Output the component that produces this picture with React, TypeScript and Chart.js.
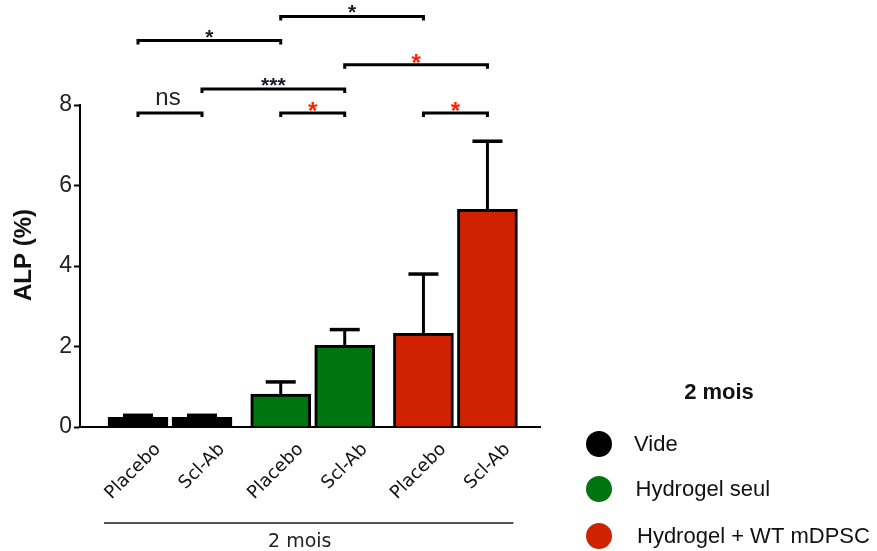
import React, { useEffect, useRef } from 'react';
import { Chart, registerables } from 'chart.js';

Chart.register(...registerables);

// ---- data ----
const groups = ['Vide', 'Hydrogel seul', 'Hydrogel + WT mDPSC'];
const groupColors = ['#000000', '#00740f', '#d02200'];
const barLabels = ['Placebo', 'Scl-Ab', 'Placebo', 'Scl-Ab', 'Placebo', 'Scl-Ab'];
const barGroup = [0, 0, 1, 1, 2, 2];
const alpMeans = [0.24, 0.24, 0.82, 2.03, 2.33, 5.41];
const alpErrors = [0.05, 0.05, 0.3, 0.39, 1.47, 1.69];
const yTickValues = [0, 2, 4, 6, 8];
const bracketFrom = [0, 2, 4, 1, 3, 0, 2];
const bracketTo = [1, 3, 5, 3, 5, 2, 4];
const bracketLevel = [7.8, 7.8, 7.8, 8.4, 9.0, 9.6, 10.2];
const bracketText = ['ns', '*', '*', '***', '*', '*', '*'];
const bracketRed = [false, true, true, false, true, false, false];
const xGroupLabel = '2 mois';
const legendTitle = '2 mois';
const yTitle = 'ALP (%)';

const SANS = '"Liberation Sans", Arial, Helvetica, sans-serif';
const VERD = '"DejaVu Sans", Verdana, sans-serif';

export default function App() {
  const ref = useRef<HTMLCanvasElement | null>(null);

  useEffect(() => {
    const canvas = ref.current;
    if (!canvas) return;
    const positions = barGroup.map((g, i) => g * 2.23 + (i % 2));
    const unit = 64;
    const xMin = -(58 / unit);
    const xMax = xMin + 460 / unit;

    const overlay = {
      id: 'overlay',
      afterDatasetsDraw(chart: any) {
        const ctx = chart.ctx;
        const meta = chart.getDatasetMeta(0);
        const ys = chart.scales.y;
        ctx.save();
        ctx.strokeStyle = '#000';
        ctx.lineCap = 'butt';
        meta.data.forEach((el: any, i: number) => {
          const top = ys.getPixelForValue(alpMeans[i] + alpErrors[i]);
          ctx.lineWidth = 3;
          ctx.beginPath();
          ctx.moveTo(el.x, el.y);
          ctx.lineTo(el.x, top);
          ctx.stroke();
          ctx.lineWidth = 3.5;
          ctx.beginPath();
          ctx.moveTo(el.x - 15, top);
          ctx.lineTo(el.x + 15, top);
          ctx.stroke();
        });
        ctx.restore();
      },
      afterDraw(chart: any) {
        const ctx = chart.ctx;
        const xs = chart.scales.x;
        const ys = chart.scales.y;
        const area = chart.chartArea;
        ctx.save();
        // y axis title
        ctx.save();
        ctx.translate(24, (area.top + area.bottom) / 2 - 11);
        ctx.rotate(-Math.PI / 2);
        ctx.fillStyle = '#111';
        ctx.font = `bold 24px ${SANS}`;
        ctx.textAlign = 'center';
        ctx.textBaseline = 'middle';
        ctx.fillText(yTitle, 0, 0);
        ctx.restore();
        // significance brackets
        bracketFrom.forEach((f, k) => {
          const x1 = xs.getPixelForValue(positions[f]);
          const x2 = xs.getPixelForValue(positions[bracketTo[k]]);
          const y = ys.getPixelForValue(bracketLevel[k]);
          ctx.strokeStyle = '#000';
          ctx.lineWidth = 3;
          ctx.beginPath();
          ctx.moveTo(x1, y + 4);
          ctx.lineTo(x1, y);
          ctx.lineTo(x2, y);
          ctx.lineTo(x2, y + 4);
          ctx.stroke();
          const t = bracketText[k];
          ctx.textAlign = 'center';
          ctx.textBaseline = 'alphabetic';
          if (t === 'ns') {
            ctx.fillStyle = '#222';
            ctx.font = `24px ${SANS}`;
            ctx.fillText(t, (x1 + x2) / 2 - 2, y - 8);
          } else if (bracketRed[k]) {
            ctx.fillStyle = '#ff2200';
            ctx.font = `bold 24px ${SANS}`;
            ctx.fillText(t, (x1 + x2) / 2, y + 6);
          } else {
            ctx.fillStyle = '#1a1a2a';
            ctx.font = `bold 21px ${SANS}`;
            ctx.fillText(t, (x1 + x2) / 2, y + 3);
          }
        });
        // group line under x labels
        const lx1 = xs.getPixelForValue(positions[0]) - 34;
        const lx2 = xs.getPixelForValue(positions[positions.length - 1]) + 26;
        ctx.strokeStyle = '#555';
        ctx.lineWidth = 2;
        ctx.beginPath();
        ctx.moveTo(lx1, 523);
        ctx.lineTo(lx2, 523);
        ctx.stroke();
        ctx.fillStyle = '#222';
        ctx.font = `19px ${VERD}`;
        ctx.textAlign = 'center';
        ctx.textBaseline = 'middle';
        ctx.fillText(xGroupLabel, (lx1 + lx2) / 2 - 9, 542);
        // legend
        ctx.fillStyle = '#111';
        ctx.font = `bold 22px ${SANS}`;
        ctx.fillText(legendTitle, 719, 393);
        const ly = [444, 489, 536];
        groups.forEach((g, i) => {
          ctx.fillStyle = groupColors[i];
          ctx.beginPath();
          ctx.arc(599, ly[i], 13, 0, Math.PI * 2);
          ctx.fill();
          ctx.fillStyle = '#111';
          ctx.font = `22px ${SANS}`;
          ctx.textAlign = 'left';
          ctx.textBaseline = 'middle';
          ctx.fillText(g, 634 + i * 1.5, ly[i] + 1);
        });
        ctx.restore();
      },
    };

    const chart = new Chart(canvas, {
      type: 'bar',
      data: {
        datasets: [
          {
            data: alpMeans.map((v, i) => ({ x: positions[i], y: v })),
            backgroundColor: barGroup.map((g) => groupColors[g]),
            borderColor: '#000',
            borderWidth: 3,
            barThickness: 60,
          },
        ],
      },
      options: {
        responsive: false,
        animation: false,
        devicePixelRatio: 1,
        layout: { padding: { top: 105, right: 337, bottom: 0, left: 0 } },
        plugins: { legend: { display: false }, tooltip: { enabled: false } },
        scales: {
          x: {
            type: 'linear',
            offset: false,
            min: xMin,
            max: xMax,
            afterFit(scale: any) {
              scale.height = 124;
            },
            afterBuildTicks(scale: any) {
              scale.ticks = positions.map((p) => ({ value: p }));
            },
            grid: { display: false, drawTicks: false, offset: false },
            border: { display: true, color: '#000', width: 2 },
            ticks: {
              autoSkip: false,
              minRotation: 45,
              maxRotation: 45,
              labelOffset: 20,
              padding: 12,
              color: '#111',
              font: { family: VERD, size: 18 },
              callback: (_v: any, idx: number) => barLabels[idx],
            },
          },
          y: {
            min: 0,
            max: 8,
            afterFit(scale: any) {
              scale.width = 80;
            },
            afterBuildTicks(scale: any) {
              scale.ticks = yTickValues.map((v) => ({ value: v }));
            },
            grid: {
              drawOnChartArea: false,
              drawTicks: true,
              tickLength: 6,
              tickColor: '#000',
              tickWidth: 2,
            },
            border: { display: true, color: '#000', width: 2 },
            ticks: {
              padding: 2,
              color: '#222',
              font: { family: SANS, size: 23 },
            },
            title: { display: false },
          },
        },
      },
      plugins: [overlay],
    } as any);
    return () => chart.destroy();
  }, []);

  return (
    <div style={{ position: 'fixed', left: 0, top: 0, width: 877, height: 551, background: '#fff' }}>
      <canvas ref={ref} width={877} height={551} />
    </div>
  );
}
